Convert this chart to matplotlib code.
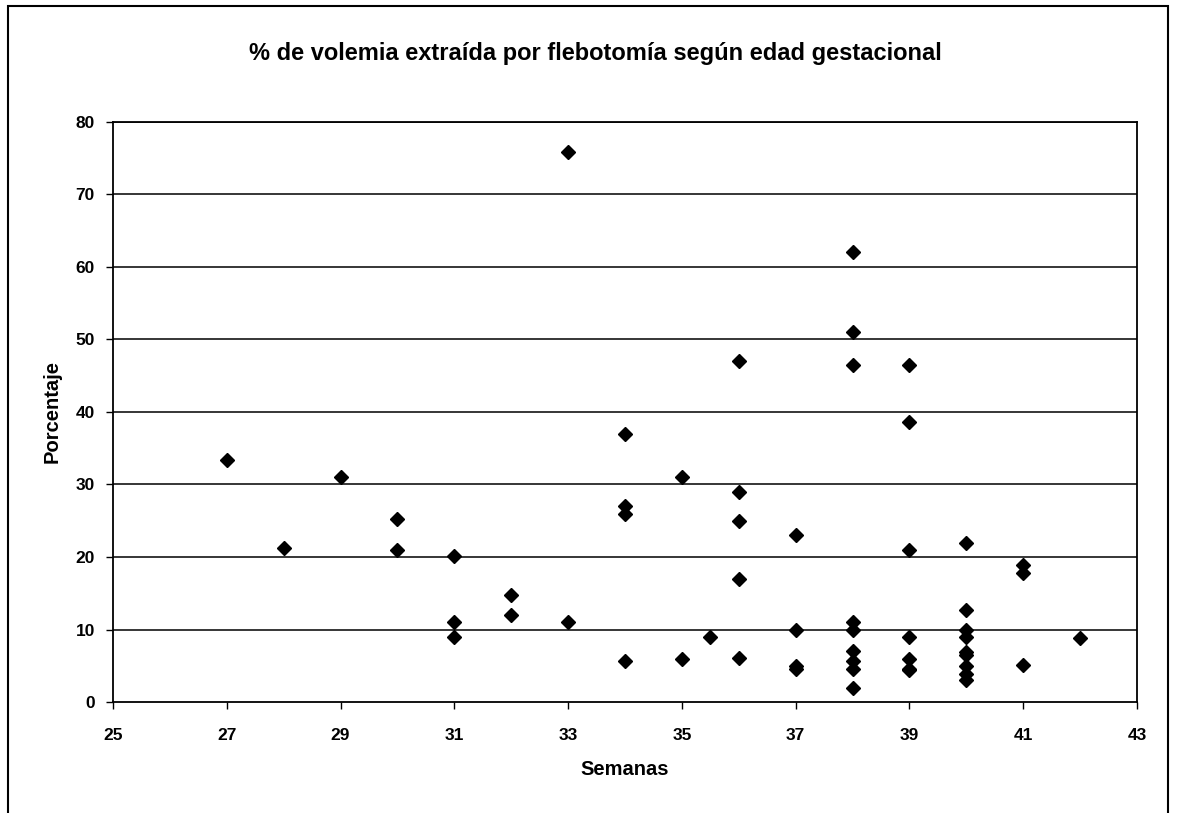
import matplotlib
matplotlib.use("Agg")
import matplotlib.pyplot as plt
from matplotlib.patches import Rectangle

plt.rcParams['font.family'] = ['Liberation Sans', 'DejaVu Sans']

semanas = [27, 28, 29, 30, 30,
           31, 31, 31, 32, 32,
           33, 33,
           34, 34, 34, 34,
           35, 35, 35.5,
           36, 36, 36, 36, 36,
           37, 37, 37, 37,
           38, 38, 38, 38, 38, 38, 38, 38, 38,
           39, 39, 39, 39, 39, 39, 39,
           40, 40, 40, 40, 40, 40, 40, 40, 40,
           41, 41, 41,
           42]
porcentaje = [33.4, 21.2, 31.1, 25.2, 21.0,
              20.1, 11.0, 9.0, 14.7, 12.0,
              75.9, 11.0,
              37.0, 27.1, 26.0, 5.6,
              31.0, 6.0, 9.0,
              47.0, 29.0, 25.0, 17.0, 6.1,
              23.1, 10.0, 5.0, 4.5,
              62.0, 51.0, 46.5, 11.0, 10.0, 7.0, 5.7, 4.5, 2.0,
              46.5, 38.6, 21.0, 9.0, 6.0, 4.6, 4.4,
              22.0, 12.7, 9.9, 9.0, 6.9, 6.5, 5.0, 3.8, 3.0,
              18.9, 17.8, 5.1,
              8.8]

x_ticks = [25, 27, 29, 31, 33, 35, 37, 39, 41, 43]
y_ticks = [0, 10, 20, 30, 40, 50, 60, 70, 80]

title = "% de volemia extraída por flebotomía según edad gestacional"
xlabel = "Semanas"
ylabel = "Porcentaje"

fig = plt.figure(figsize=(11.79, 8.13), dpi=100)
ax = fig.add_axes([0.0958, 0.1365, 0.8686, 0.7135])

for y in y_ticks[1:]:
    ax.axhline(y, color='black', lw=1.1, zorder=1)

ax.plot(semanas, porcentaje, linestyle='none', marker='D', ms=7,
        color='black', zorder=3)

ax.set_xlim(25, 43)
ax.set_ylim(0, 80)
ax.set_xticks(x_ticks)
ax.set_yticks(y_ticks)
ax.tick_params(axis='both', direction='out', length=5, width=1,
               labelsize=12.5, colors='black')
for lab in ax.get_xticklabels() + ax.get_yticklabels():
    lab.set_fontweight('bold')
ax.tick_params(axis='x', pad=14)
ax.tick_params(axis='y', pad=8)
for s in ax.spines.values():
    s.set_color('black')
    s.set_linewidth(1.3)

ax.set_xlabel(xlabel, fontsize=14.5, fontweight='bold', labelpad=12)
ax.set_ylabel(ylabel, fontsize=14.5, fontweight='bold', labelpad=10)
fig.text(0.505, 0.934, title, ha='center', va='center', fontsize=17,
         fontweight='bold')

fig.patches.append(Rectangle((8 / 1179, -0.02), 1160 / 1179, 1.013,
                             transform=fig.transFigure, fill=False,
                             edgecolor='black', lw=1.5))

fig.savefig("out.png", dpi=100, facecolor='white')
